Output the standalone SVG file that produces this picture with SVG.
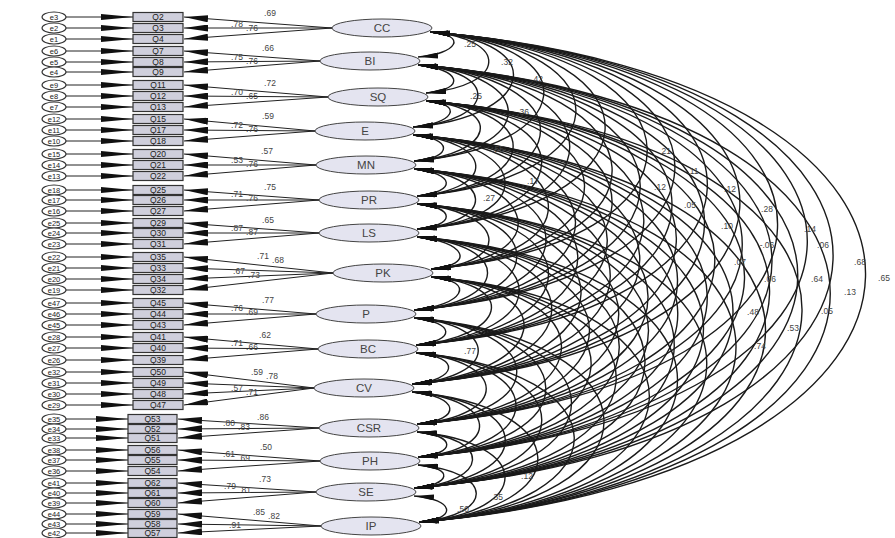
<svg xmlns="http://www.w3.org/2000/svg" width="895" height="538" viewBox="0 0 895 538">
<style>
.fac{fill:#e4e4f0;stroke:#444;stroke-width:1}
.ft{font-family:"Liberation Sans",Arial,sans-serif;font-size:11.5px;fill:#444;text-anchor:middle}
.box{fill:#cfcfdc;stroke:#333;stroke-width:1.2}
.bt{font-family:"Liberation Sans",Arial,sans-serif;font-size:8.5px;fill:#222;text-anchor:middle}
.err{fill:#fff;stroke:#333;stroke-width:1.1}
.et{font-family:"Liberation Sans",Arial,sans-serif;font-size:7.5px;fill:#222;text-anchor:middle}
.cov{fill:none;stroke:#1a1a1a;stroke-width:1.4;marker-start:url(#ah);marker-end:url(#ah)}
.ld{fill:none;stroke:#222;stroke-width:1;marker-end:url(#al)}
.el{fill:none;stroke:#222;stroke-width:1;marker-end:url(#ae)}
.lb{font-family:"Liberation Sans",Arial,sans-serif;font-size:8.5px;fill:#444;text-anchor:middle}
</style>
<defs>
<marker id="ah" viewBox="0 0 20 6" refX="20" refY="3" markerWidth="20" markerHeight="6" markerUnits="userSpaceOnUse" orient="auto-start-reverse"><path d="M0,0L20,3L0,6z" fill="#111"/></marker>
<marker id="al" viewBox="0 0 24 7" refX="24" refY="3.5" markerWidth="24" markerHeight="7" markerUnits="userSpaceOnUse" orient="auto"><path d="M0,0L24,3.5L0,7z" fill="#111"/></marker>
<marker id="ae" viewBox="0 0 32 6" refX="32" refY="3" markerWidth="32" markerHeight="6" markerUnits="userSpaceOnUse" orient="auto"><path d="M0,0L32,3L0,6z" fill="#111"/></marker>
</defs>
<rect width="895" height="538" fill="#fff"/>
<g id="connectors">
<g id="covariances">
<path class="cov" d="M430,32 C469,35 457,54 418,57"/>
<path class="cov" d="M430,32 C511,39 507,86 426,93"/>
<path class="cov" d="M430,32 C552,42 535,117 413,127"/>
<path class="cov" d="M430,32 C592,46 576,147 414,161"/>
<path class="cov" d="M430,32 C633,49 620,179 417,196"/>
<path class="cov" d="M430,32 C672,53 659,208 417,229"/>
<path class="cov" d="M430,32 C719,57 720,244 431,269"/>
<path class="cov" d="M430,32 C767,61 751,281 414,310"/>
<path class="cov" d="M430,32 C809,64 795,313 416,345"/>
<path class="cov" d="M430,32 C855,68 837,348 412,384"/>
<path class="cov" d="M430,32 C902,72 889,384 417,424"/>
<path class="cov" d="M430,32 C941,75 929,414 418,457"/>
<path class="cov" d="M430,32 C978,78 962,442 414,488"/>
<path class="cov" d="M430,32 C1018,82 1007,472 419,522"/>
<path class="cov" d="M418,65 C460,69 468,89 426,93"/>
<path class="cov" d="M418,65 C501,72 496,120 413,127"/>
<path class="cov" d="M418,65 C541,75 537,151 414,161"/>
<path class="cov" d="M418,65 C582,79 581,182 417,196"/>
<path class="cov" d="M418,65 C621,82 620,212 417,229"/>
<path class="cov" d="M418,65 C668,86 681,248 431,269"/>
<path class="cov" d="M418,65 C717,90 713,285 414,310"/>
<path class="cov" d="M418,65 C758,94 756,316 416,345"/>
<path class="cov" d="M418,65 C804,98 798,351 412,384"/>
<path class="cov" d="M418,65 C851,102 850,387 417,424"/>
<path class="cov" d="M418,65 C890,105 890,417 418,457"/>
<path class="cov" d="M418,65 C927,108 923,445 414,488"/>
<path class="cov" d="M418,65 C967,112 968,475 419,522"/>
<path class="cov" d="M426,101 C466,104 453,124 413,127"/>
<path class="cov" d="M426,101 C506,108 494,154 414,161"/>
<path class="cov" d="M426,101 C548,111 539,186 417,196"/>
<path class="cov" d="M426,101 C586,115 577,215 417,229"/>
<path class="cov" d="M426,101 C634,119 639,251 431,269"/>
<path class="cov" d="M426,101 C682,123 670,288 414,310"/>
<path class="cov" d="M426,101 C723,126 713,320 416,345"/>
<path class="cov" d="M426,101 C769,130 755,355 412,384"/>
<path class="cov" d="M426,101 C817,134 808,391 417,424"/>
<path class="cov" d="M426,101 C856,137 848,421 418,457"/>
<path class="cov" d="M426,101 C892,141 880,448 414,488"/>
<path class="cov" d="M426,101 C932,144 925,479 419,522"/>
<path class="cov" d="M413,135 C453,138 454,158 414,161"/>
<path class="cov" d="M413,135 C494,142 498,189 417,196"/>
<path class="cov" d="M413,135 C533,145 537,219 417,229"/>
<path class="cov" d="M413,135 C581,149 599,255 431,269"/>
<path class="cov" d="M413,135 C629,153 630,292 414,310"/>
<path class="cov" d="M413,135 C670,157 673,323 416,345"/>
<path class="cov" d="M413,135 C716,161 715,358 412,384"/>
<path class="cov" d="M413,135 C763,165 767,394 417,424"/>
<path class="cov" d="M413,135 C802,168 807,424 418,457"/>
<path class="cov" d="M413,135 C839,171 840,452 414,488"/>
<path class="cov" d="M413,135 C879,175 885,482 419,522"/>
<path class="cov" d="M414,169 C455,173 458,192 417,196"/>
<path class="cov" d="M414,169 C494,176 497,222 417,229"/>
<path class="cov" d="M414,169 C541,180 558,258 431,269"/>
<path class="cov" d="M414,169 C590,184 590,295 414,310"/>
<path class="cov" d="M414,169 C631,187 633,327 416,345"/>
<path class="cov" d="M414,169 C677,191 675,362 412,384"/>
<path class="cov" d="M414,169 C724,195 727,398 417,424"/>
<path class="cov" d="M414,169 C763,199 767,427 418,457"/>
<path class="cov" d="M414,169 C800,202 800,455 414,488"/>
<path class="cov" d="M414,169 C840,205 845,486 419,522"/>
<path class="cov" d="M417,204 C456,207 456,226 417,229"/>
<path class="cov" d="M417,204 C503,211 517,262 431,269"/>
<path class="cov" d="M417,204 C552,215 549,299 414,310"/>
<path class="cov" d="M417,204 C593,219 592,330 416,345"/>
<path class="cov" d="M417,204 C639,223 634,365 412,384"/>
<path class="cov" d="M417,204 C686,227 686,401 417,424"/>
<path class="cov" d="M417,204 C725,230 726,431 418,457"/>
<path class="cov" d="M417,204 C762,233 759,459 414,488"/>
<path class="cov" d="M417,204 C802,237 804,489 419,522"/>
<path class="cov" d="M417,237 C464,241 478,265 431,269"/>
<path class="cov" d="M417,237 C513,245 510,302 414,310"/>
<path class="cov" d="M417,237 C554,249 553,333 416,345"/>
<path class="cov" d="M417,237 C600,253 595,368 412,384"/>
<path class="cov" d="M417,237 C647,257 647,404 417,424"/>
<path class="cov" d="M417,237 C686,260 687,434 418,457"/>
<path class="cov" d="M417,237 C723,263 720,462 414,488"/>
<path class="cov" d="M417,237 C763,266 765,493 419,522"/>
<path class="cov" d="M431,277 C479,281 462,306 414,310"/>
<path class="cov" d="M431,277 C521,285 506,337 416,345"/>
<path class="cov" d="M431,277 C567,289 548,372 412,384"/>
<path class="cov" d="M431,277 C614,293 600,408 417,424"/>
<path class="cov" d="M431,277 C653,296 640,438 418,457"/>
<path class="cov" d="M431,277 C689,299 672,466 414,488"/>
<path class="cov" d="M431,277 C730,302 718,497 419,522"/>
<path class="cov" d="M414,318 C455,322 457,341 416,345"/>
<path class="cov" d="M414,318 C501,325 499,377 412,384"/>
<path class="cov" d="M414,318 C549,329 552,413 417,424"/>
<path class="cov" d="M414,318 C587,333 591,442 418,457"/>
<path class="cov" d="M414,318 C624,336 624,470 414,488"/>
<path class="cov" d="M414,318 C664,339 669,501 419,522"/>
<path class="cov" d="M416,353 C462,357 458,380 412,384"/>
<path class="cov" d="M416,353 C509,361 510,416 417,424"/>
<path class="cov" d="M416,353 C548,364 550,446 418,457"/>
<path class="cov" d="M416,353 C585,367 583,474 414,488"/>
<path class="cov" d="M416,353 C625,371 628,504 419,522"/>
<path class="cov" d="M412,392 C459,396 464,420 417,424"/>
<path class="cov" d="M412,392 C498,399 504,450 418,457"/>
<path class="cov" d="M412,392 C535,402 537,478 414,488"/>
<path class="cov" d="M412,392 C575,406 582,508 419,522"/>
<path class="cov" d="M417,432 C456,435 457,454 418,457"/>
<path class="cov" d="M417,432 C493,438 490,482 414,488"/>
<path class="cov" d="M417,432 C533,442 535,512 419,522"/>
<path class="cov" d="M418,465 C455,468 451,485 414,488"/>
<path class="cov" d="M418,465 C495,472 496,515 419,522"/>
<path class="cov" d="M414,496 C454,499 459,519 419,522"/>
</g>
<g id="loadings">
<line class="ld" x1="332" y1="28" x2="184" y2="17"/><line class="ld" x1="332" y1="28" x2="184" y2="28"/><line class="ld" x1="332" y1="28" x2="184" y2="39"/>
<line class="ld" x1="320" y1="61" x2="184" y2="51"/><line class="ld" x1="320" y1="61" x2="184" y2="62"/><line class="ld" x1="320" y1="61" x2="184" y2="72"/>
<line class="ld" x1="328" y1="97" x2="184" y2="85"/><line class="ld" x1="328" y1="97" x2="184" y2="96"/><line class="ld" x1="328" y1="97" x2="184" y2="107"/>
<line class="ld" x1="315" y1="131" x2="184" y2="119"/><line class="ld" x1="315" y1="131" x2="184" y2="130"/><line class="ld" x1="315" y1="131" x2="184" y2="141"/>
<line class="ld" x1="316" y1="165" x2="184" y2="154"/><line class="ld" x1="316" y1="165" x2="184" y2="165"/><line class="ld" x1="316" y1="165" x2="184" y2="176"/>
<line class="ld" x1="319" y1="200" x2="184" y2="190"/><line class="ld" x1="319" y1="200" x2="184" y2="200"/><line class="ld" x1="319" y1="200" x2="184" y2="211"/>
<line class="ld" x1="319" y1="233" x2="184" y2="223"/><line class="ld" x1="319" y1="233" x2="184" y2="233"/><line class="ld" x1="319" y1="233" x2="184" y2="244"/>
<line class="ld" x1="333" y1="273" x2="184" y2="257"/><line class="ld" x1="333" y1="273" x2="184" y2="268"/><line class="ld" x1="333" y1="273" x2="184" y2="279"/><line class="ld" x1="333" y1="273" x2="184" y2="290"/>
<line class="ld" x1="316" y1="314" x2="184" y2="303"/><line class="ld" x1="316" y1="314" x2="184" y2="314"/><line class="ld" x1="316" y1="314" x2="184" y2="325"/>
<line class="ld" x1="318" y1="349" x2="184" y2="337"/><line class="ld" x1="318" y1="349" x2="184" y2="348"/><line class="ld" x1="318" y1="349" x2="184" y2="360"/>
<line class="ld" x1="314" y1="388" x2="184" y2="372"/><line class="ld" x1="314" y1="388" x2="184" y2="383"/><line class="ld" x1="314" y1="388" x2="184" y2="394"/><line class="ld" x1="314" y1="388" x2="184" y2="405"/>
<line class="ld" x1="319" y1="428" x2="178" y2="419"/><line class="ld" x1="319" y1="428" x2="178" y2="429"/><line class="ld" x1="319" y1="428" x2="178" y2="438"/>
<line class="ld" x1="320" y1="461" x2="178" y2="450"/><line class="ld" x1="320" y1="461" x2="178" y2="460"/><line class="ld" x1="320" y1="461" x2="178" y2="471"/>
<line class="ld" x1="316" y1="492" x2="178" y2="483"/><line class="ld" x1="316" y1="492" x2="178" y2="493"/><line class="ld" x1="316" y1="492" x2="178" y2="503"/>
<line class="ld" x1="321" y1="526" x2="178" y2="514"/><line class="ld" x1="321" y1="526" x2="178" y2="524"/><line class="ld" x1="321" y1="526" x2="178" y2="533"/>
</g>
<g id="error-paths">
<line class="el" x1="66" y1="17" x2="133" y2="17"/><line class="el" x1="66" y1="28" x2="133" y2="28"/><line class="el" x1="66" y1="39" x2="133" y2="39"/>
<line class="el" x1="66" y1="51" x2="133" y2="51"/><line class="el" x1="66" y1="62" x2="133" y2="62"/><line class="el" x1="66" y1="72" x2="133" y2="72"/>
<line class="el" x1="66" y1="85" x2="133" y2="85"/><line class="el" x1="66" y1="96" x2="133" y2="96"/><line class="el" x1="66" y1="107" x2="133" y2="107"/>
<line class="el" x1="66" y1="119" x2="133" y2="119"/><line class="el" x1="66" y1="130" x2="133" y2="130"/><line class="el" x1="66" y1="141" x2="133" y2="141"/>
<line class="el" x1="66" y1="154" x2="133" y2="154"/><line class="el" x1="66" y1="165" x2="133" y2="165"/><line class="el" x1="66" y1="176" x2="133" y2="176"/>
<line class="el" x1="66" y1="190" x2="133" y2="190"/><line class="el" x1="66" y1="200" x2="133" y2="200"/><line class="el" x1="66" y1="211" x2="133" y2="211"/>
<line class="el" x1="66" y1="223" x2="133" y2="223"/><line class="el" x1="66" y1="233" x2="133" y2="233"/><line class="el" x1="66" y1="244" x2="133" y2="244"/>
<line class="el" x1="66" y1="257" x2="133" y2="257"/><line class="el" x1="66" y1="268" x2="133" y2="268"/><line class="el" x1="66" y1="279" x2="133" y2="279"/><line class="el" x1="66" y1="290" x2="133" y2="290"/>
<line class="el" x1="66" y1="303" x2="133" y2="303"/><line class="el" x1="66" y1="314" x2="133" y2="314"/><line class="el" x1="66" y1="325" x2="133" y2="325"/>
<line class="el" x1="66" y1="337" x2="133" y2="337"/><line class="el" x1="66" y1="348" x2="133" y2="348"/><line class="el" x1="66" y1="360" x2="133" y2="360"/>
<line class="el" x1="66" y1="372" x2="133" y2="372"/><line class="el" x1="66" y1="383" x2="133" y2="383"/><line class="el" x1="66" y1="394" x2="133" y2="394"/><line class="el" x1="66" y1="405" x2="133" y2="405"/>
<line class="el" x1="66" y1="419" x2="128" y2="419"/><line class="el" x1="66" y1="429" x2="128" y2="429"/><line class="el" x1="66" y1="438" x2="128" y2="438"/>
<line class="el" x1="66" y1="450" x2="128" y2="450"/><line class="el" x1="66" y1="460" x2="128" y2="460"/><line class="el" x1="66" y1="471" x2="128" y2="471"/>
<line class="el" x1="66" y1="483" x2="128" y2="483"/><line class="el" x1="66" y1="493" x2="128" y2="493"/><line class="el" x1="66" y1="503" x2="128" y2="503"/>
<line class="el" x1="66" y1="514" x2="128" y2="514"/><line class="el" x1="66" y1="524" x2="128" y2="524"/><line class="el" x1="66" y1="533" x2="128" y2="533"/>
</g>
<g id="loading-labels">
<text class="lb" x="270" y="16">.69</text><text class="lb" x="237" y="27">.78</text><text class="lb" x="252" y="31">.76</text>
<text class="lb" x="268" y="51">.66</text><text class="lb" x="237" y="60">.75</text><text class="lb" x="252" y="64">.76</text>
<text class="lb" x="270" y="86">.72</text><text class="lb" x="237" y="95">.70</text><text class="lb" x="252" y="99">.65</text>
<text class="lb" x="268" y="119">.59</text><text class="lb" x="237" y="128">.72</text><text class="lb" x="252" y="132">.76</text>
<text class="lb" x="267" y="154">.57</text><text class="lb" x="237" y="163">.53</text><text class="lb" x="252" y="167">.76</text>
<text class="lb" x="270" y="190">.75</text><text class="lb" x="237" y="197">.71</text><text class="lb" x="252" y="201">.76</text>
<text class="lb" x="268" y="223">.65</text><text class="lb" x="237" y="231">.87</text><text class="lb" x="252" y="235">.87</text>
<text class="lb" x="263" y="259">.71</text><text class="lb" x="278" y="263">.68</text><text class="lb" x="239" y="274">.67</text><text class="lb" x="254" y="278">.73</text>
<text class="lb" x="268" y="303">.77</text><text class="lb" x="237" y="311">.76</text><text class="lb" x="252" y="315">.69</text>
<text class="lb" x="265" y="338">.62</text><text class="lb" x="237" y="346">.71</text><text class="lb" x="252" y="350">.66</text>
<text class="lb" x="257" y="375">.59</text><text class="lb" x="272" y="379">.78</text><text class="lb" x="237" y="391">.57</text><text class="lb" x="252" y="395">.71</text>
<text class="lb" x="263" y="420">.86</text><text class="lb" x="229" y="426">.80</text><text class="lb" x="244" y="430">.83</text>
<text class="lb" x="266" y="450">.50</text><text class="lb" x="229" y="457">.61</text><text class="lb" x="244" y="461">.69</text>
<text class="lb" x="265" y="482">.73</text><text class="lb" x="230" y="489">.79</text><text class="lb" x="245" y="493">.81</text>
<text class="lb" x="259" y="515">.85</text><text class="lb" x="274" y="519">.82</text><text class="lb" x="235" y="528">.91</text>
</g>
<g id="covariance-labels">
<text class="lb" x="470" y="47">.25</text>
<text class="lb" x="507" y="65">.32</text>
<text class="lb" x="537" y="82">.42</text>
<text class="lb" x="476" y="99">.25</text>
<text class="lb" x="523" y="115">.36</text>
<text class="lb" x="498" y="152">.55</text>
<text class="lb" x="533" y="184">.17</text>
<text class="lb" x="489" y="201">.27</text>
<text class="lb" x="665" y="154">.21</text>
<text class="lb" x="693" y="174">.11</text>
<text class="lb" x="660" y="190">.12</text>
<text class="lb" x="730" y="192">.12</text>
<text class="lb" x="690" y="208">.05</text>
<text class="lb" x="767" y="212">.28</text>
<text class="lb" x="727" y="229">.10</text>
<text class="lb" x="810" y="232">.14</text>
<text class="lb" x="767" y="248">-.06</text>
<text class="lb" x="823" y="248">.06</text>
<text class="lb" x="740" y="265">.07</text>
<text class="lb" x="860" y="265">.68</text>
<text class="lb" x="770" y="282">.06</text>
<text class="lb" x="817" y="282">.64</text>
<text class="lb" x="884" y="281">.65</text>
<text class="lb" x="850" y="295">.13</text>
<text class="lb" x="753" y="315">.48</text>
<text class="lb" x="827" y="314">.05</text>
<text class="lb" x="793" y="331">.53</text>
<text class="lb" x="760" y="349">.74</text>
<text class="lb" x="470" y="354">.77</text>
<text class="lb" x="527" y="479">.12</text>
<text class="lb" x="497" y="500">.35</text>
<text class="lb" x="463" y="512">.50</text>
</g>
</g>
<g id="CC"><ellipse class="fac" cx="382" cy="28" rx="50" ry="9"/><text class="ft" x="382" y="32">CC</text></g>
<g id="BI"><ellipse class="fac" cx="370" cy="61" rx="50" ry="9"/><text class="ft" x="370" y="65">BI</text></g>
<g id="SQ"><ellipse class="fac" cx="378" cy="97" rx="50" ry="9"/><text class="ft" x="378" y="101">SQ</text></g>
<g id="E"><ellipse class="fac" cx="365" cy="131" rx="50" ry="9"/><text class="ft" x="365" y="135">E</text></g>
<g id="MN"><ellipse class="fac" cx="366" cy="165" rx="50" ry="9"/><text class="ft" x="366" y="169">MN</text></g>
<g id="PR"><ellipse class="fac" cx="369" cy="200" rx="50" ry="9"/><text class="ft" x="369" y="204">PR</text></g>
<g id="LS"><ellipse class="fac" cx="369" cy="233" rx="50" ry="9"/><text class="ft" x="369" y="237">LS</text></g>
<g id="PK"><ellipse class="fac" cx="383" cy="273" rx="50" ry="9"/><text class="ft" x="383" y="277">PK</text></g>
<g id="P"><ellipse class="fac" cx="366" cy="314" rx="50" ry="9"/><text class="ft" x="366" y="318">P</text></g>
<g id="BC"><ellipse class="fac" cx="368" cy="349" rx="50" ry="9"/><text class="ft" x="368" y="353">BC</text></g>
<g id="CV"><ellipse class="fac" cx="364" cy="388" rx="50" ry="9"/><text class="ft" x="364" y="392">CV</text></g>
<g id="CSR"><ellipse class="fac" cx="369" cy="428" rx="50" ry="9"/><text class="ft" x="369" y="432">CSR</text></g>
<g id="PH"><ellipse class="fac" cx="370" cy="461" rx="50" ry="9"/><text class="ft" x="370" y="465">PH</text></g>
<g id="SE"><ellipse class="fac" cx="366" cy="492" rx="50" ry="9"/><text class="ft" x="366" y="496">SE</text></g>
<g id="IP"><ellipse class="fac" cx="371" cy="526" rx="50" ry="9"/><text class="ft" x="371" y="530">IP</text></g>
<g id="indicators">
<g id="Q2"><rect class="box" x="133" y="12.5" width="50" height="9"/><text class="bt" x="158" y="20">Q2</text></g>
<g id="Q3"><rect class="box" x="133" y="23.5" width="50" height="9"/><text class="bt" x="158" y="31">Q3</text></g>
<g id="Q4"><rect class="box" x="133" y="34.5" width="50" height="9"/><text class="bt" x="158" y="42">Q4</text></g>
<g id="Q7"><rect class="box" x="133" y="46.5" width="50" height="9"/><text class="bt" x="158" y="54">Q7</text></g>
<g id="Q8"><rect class="box" x="133" y="57.5" width="50" height="9"/><text class="bt" x="158" y="65">Q8</text></g>
<g id="Q9"><rect class="box" x="133" y="67.5" width="50" height="9"/><text class="bt" x="158" y="75">Q9</text></g>
<g id="Q11"><rect class="box" x="133" y="80.5" width="50" height="9"/><text class="bt" x="158" y="88">Q11</text></g>
<g id="Q12"><rect class="box" x="133" y="91.5" width="50" height="9"/><text class="bt" x="158" y="99">Q12</text></g>
<g id="Q13"><rect class="box" x="133" y="102.5" width="50" height="9"/><text class="bt" x="158" y="110">Q13</text></g>
<g id="Q15"><rect class="box" x="133" y="114.5" width="50" height="9"/><text class="bt" x="158" y="122">Q15</text></g>
<g id="Q17"><rect class="box" x="133" y="125.5" width="50" height="9"/><text class="bt" x="158" y="133">Q17</text></g>
<g id="Q18"><rect class="box" x="133" y="136.5" width="50" height="9"/><text class="bt" x="158" y="144">Q18</text></g>
<g id="Q20"><rect class="box" x="133" y="149.5" width="50" height="9"/><text class="bt" x="158" y="157">Q20</text></g>
<g id="Q21"><rect class="box" x="133" y="160.5" width="50" height="9"/><text class="bt" x="158" y="168">Q21</text></g>
<g id="Q22"><rect class="box" x="133" y="171.5" width="50" height="9"/><text class="bt" x="158" y="179">Q22</text></g>
<g id="Q25"><rect class="box" x="133" y="185.5" width="50" height="9"/><text class="bt" x="158" y="193">Q25</text></g>
<g id="Q26"><rect class="box" x="133" y="195.5" width="50" height="9"/><text class="bt" x="158" y="203">Q26</text></g>
<g id="Q27"><rect class="box" x="133" y="206.5" width="50" height="9"/><text class="bt" x="158" y="214">Q27</text></g>
<g id="Q29"><rect class="box" x="133" y="218.5" width="50" height="9"/><text class="bt" x="158" y="226">Q29</text></g>
<g id="Q30"><rect class="box" x="133" y="228.5" width="50" height="9"/><text class="bt" x="158" y="236">Q30</text></g>
<g id="Q31"><rect class="box" x="133" y="239.5" width="50" height="9"/><text class="bt" x="158" y="247">Q31</text></g>
<g id="Q35"><rect class="box" x="133" y="252.5" width="50" height="9"/><text class="bt" x="158" y="260">Q35</text></g>
<g id="Q33"><rect class="box" x="133" y="263.5" width="50" height="9"/><text class="bt" x="158" y="271">Q33</text></g>
<g id="Q34"><rect class="box" x="133" y="274.5" width="50" height="9"/><text class="bt" x="158" y="282">Q34</text></g>
<g id="Q32"><rect class="box" x="133" y="285.5" width="50" height="9"/><text class="bt" x="158" y="293">Q32</text></g>
<g id="Q45"><rect class="box" x="133" y="298.5" width="50" height="9"/><text class="bt" x="158" y="306">Q45</text></g>
<g id="Q44"><rect class="box" x="133" y="309.5" width="50" height="9"/><text class="bt" x="158" y="317">Q44</text></g>
<g id="Q43"><rect class="box" x="133" y="320.5" width="50" height="9"/><text class="bt" x="158" y="328">Q43</text></g>
<g id="Q41"><rect class="box" x="133" y="332.5" width="50" height="9"/><text class="bt" x="158" y="340">Q41</text></g>
<g id="Q40"><rect class="box" x="133" y="343.5" width="50" height="9"/><text class="bt" x="158" y="351">Q40</text></g>
<g id="Q39"><rect class="box" x="133" y="355.5" width="50" height="9"/><text class="bt" x="158" y="363">Q39</text></g>
<g id="Q50"><rect class="box" x="133" y="367.5" width="50" height="9"/><text class="bt" x="158" y="375">Q50</text></g>
<g id="Q49"><rect class="box" x="133" y="378.5" width="50" height="9"/><text class="bt" x="158" y="386">Q49</text></g>
<g id="Q48"><rect class="box" x="133" y="389.5" width="50" height="9"/><text class="bt" x="158" y="397">Q48</text></g>
<g id="Q47"><rect class="box" x="133" y="400.5" width="50" height="9"/><text class="bt" x="158" y="408">Q47</text></g>
<g id="Q53"><rect class="box" x="128" y="414.5" width="49" height="9"/><text class="bt" x="152.5" y="422">Q53</text></g>
<g id="Q52"><rect class="box" x="128" y="424.5" width="49" height="9"/><text class="bt" x="152.5" y="432">Q52</text></g>
<g id="Q51"><rect class="box" x="128" y="433.5" width="49" height="9"/><text class="bt" x="152.5" y="441">Q51</text></g>
<g id="Q56"><rect class="box" x="128" y="445.5" width="49" height="9"/><text class="bt" x="152.5" y="453">Q56</text></g>
<g id="Q55"><rect class="box" x="128" y="455.5" width="49" height="9"/><text class="bt" x="152.5" y="463">Q55</text></g>
<g id="Q54"><rect class="box" x="128" y="466.5" width="49" height="9"/><text class="bt" x="152.5" y="474">Q54</text></g>
<g id="Q62"><rect class="box" x="128" y="478.5" width="49" height="9"/><text class="bt" x="152.5" y="486">Q62</text></g>
<g id="Q61"><rect class="box" x="128" y="488.5" width="49" height="9"/><text class="bt" x="152.5" y="496">Q61</text></g>
<g id="Q60"><rect class="box" x="128" y="498.5" width="49" height="9"/><text class="bt" x="152.5" y="506">Q60</text></g>
<g id="Q59"><rect class="box" x="128" y="509.5" width="49" height="9"/><text class="bt" x="152.5" y="517">Q59</text></g>
<g id="Q58"><rect class="box" x="128" y="519.5" width="49" height="9"/><text class="bt" x="152.5" y="527">Q58</text></g>
<g id="Q57"><rect class="box" x="128" y="528.5" width="49" height="9"/><text class="bt" x="152.5" y="536">Q57</text></g>
</g>
<g id="errors">
<g id="e3"><ellipse class="err" cx="54" cy="17" rx="12" ry="5"/><text class="et" x="54" y="19.7">e3</text></g>
<g id="e2"><ellipse class="err" cx="54" cy="28" rx="12" ry="5"/><text class="et" x="54" y="30.7">e2</text></g>
<g id="e1"><ellipse class="err" cx="54" cy="39" rx="12" ry="5"/><text class="et" x="54" y="41.7">e1</text></g>
<g id="e6"><ellipse class="err" cx="54" cy="51" rx="12" ry="5"/><text class="et" x="54" y="53.7">e6</text></g>
<g id="e5"><ellipse class="err" cx="54" cy="62" rx="12" ry="5"/><text class="et" x="54" y="64.7">e5</text></g>
<g id="e4"><ellipse class="err" cx="54" cy="72" rx="12" ry="5"/><text class="et" x="54" y="74.7">e4</text></g>
<g id="e9"><ellipse class="err" cx="54" cy="85" rx="12" ry="5"/><text class="et" x="54" y="87.7">e9</text></g>
<g id="e8"><ellipse class="err" cx="54" cy="96" rx="12" ry="5"/><text class="et" x="54" y="98.7">e8</text></g>
<g id="e7"><ellipse class="err" cx="54" cy="107" rx="12" ry="5"/><text class="et" x="54" y="109.7">e7</text></g>
<g id="e12"><ellipse class="err" cx="54" cy="119" rx="12" ry="5"/><text class="et" x="54" y="121.7">e12</text></g>
<g id="e11"><ellipse class="err" cx="54" cy="130" rx="12" ry="5"/><text class="et" x="54" y="132.7">e11</text></g>
<g id="e10"><ellipse class="err" cx="54" cy="141" rx="12" ry="5"/><text class="et" x="54" y="143.7">e10</text></g>
<g id="e15"><ellipse class="err" cx="54" cy="154" rx="12" ry="5"/><text class="et" x="54" y="156.7">e15</text></g>
<g id="e14"><ellipse class="err" cx="54" cy="165" rx="12" ry="5"/><text class="et" x="54" y="167.7">e14</text></g>
<g id="e13"><ellipse class="err" cx="54" cy="176" rx="12" ry="5"/><text class="et" x="54" y="178.7">e13</text></g>
<g id="e18"><ellipse class="err" cx="54" cy="190" rx="12" ry="5"/><text class="et" x="54" y="192.7">e18</text></g>
<g id="e17"><ellipse class="err" cx="54" cy="200" rx="12" ry="5"/><text class="et" x="54" y="202.7">e17</text></g>
<g id="e16"><ellipse class="err" cx="54" cy="211" rx="12" ry="5"/><text class="et" x="54" y="213.7">e16</text></g>
<g id="e25"><ellipse class="err" cx="54" cy="223" rx="12" ry="5"/><text class="et" x="54" y="225.7">e25</text></g>
<g id="e24"><ellipse class="err" cx="54" cy="233" rx="12" ry="5"/><text class="et" x="54" y="235.7">e24</text></g>
<g id="e23"><ellipse class="err" cx="54" cy="244" rx="12" ry="5"/><text class="et" x="54" y="246.7">e23</text></g>
<g id="e22"><ellipse class="err" cx="54" cy="257" rx="12" ry="5"/><text class="et" x="54" y="259.7">e22</text></g>
<g id="e21"><ellipse class="err" cx="54" cy="268" rx="12" ry="5"/><text class="et" x="54" y="270.7">e21</text></g>
<g id="e20"><ellipse class="err" cx="54" cy="279" rx="12" ry="5"/><text class="et" x="54" y="281.7">e20</text></g>
<g id="e19"><ellipse class="err" cx="54" cy="290" rx="12" ry="5"/><text class="et" x="54" y="292.7">e19</text></g>
<g id="e47"><ellipse class="err" cx="54" cy="303" rx="12" ry="5"/><text class="et" x="54" y="305.7">e47</text></g>
<g id="e46"><ellipse class="err" cx="54" cy="314" rx="12" ry="5"/><text class="et" x="54" y="316.7">e46</text></g>
<g id="e45"><ellipse class="err" cx="54" cy="325" rx="12" ry="5"/><text class="et" x="54" y="327.7">e45</text></g>
<g id="e28"><ellipse class="err" cx="54" cy="337" rx="12" ry="5"/><text class="et" x="54" y="339.7">e28</text></g>
<g id="e27"><ellipse class="err" cx="54" cy="348" rx="12" ry="5"/><text class="et" x="54" y="350.7">e27</text></g>
<g id="e26"><ellipse class="err" cx="54" cy="360" rx="12" ry="5"/><text class="et" x="54" y="362.7">e26</text></g>
<g id="e32"><ellipse class="err" cx="54" cy="372" rx="12" ry="5"/><text class="et" x="54" y="374.7">e32</text></g>
<g id="e31"><ellipse class="err" cx="54" cy="383" rx="12" ry="5"/><text class="et" x="54" y="385.7">e31</text></g>
<g id="e30"><ellipse class="err" cx="54" cy="394" rx="12" ry="5"/><text class="et" x="54" y="396.7">e30</text></g>
<g id="e29"><ellipse class="err" cx="54" cy="405" rx="12" ry="5"/><text class="et" x="54" y="407.7">e29</text></g>
<g id="e35"><ellipse class="err" cx="54" cy="419" rx="12" ry="5"/><text class="et" x="54" y="421.7">e35</text></g>
<g id="e34"><ellipse class="err" cx="54" cy="429" rx="12" ry="5"/><text class="et" x="54" y="431.7">e34</text></g>
<g id="e33"><ellipse class="err" cx="54" cy="438" rx="12" ry="5"/><text class="et" x="54" y="440.7">e33</text></g>
<g id="e38"><ellipse class="err" cx="54" cy="450" rx="12" ry="5"/><text class="et" x="54" y="452.7">e38</text></g>
<g id="e37"><ellipse class="err" cx="54" cy="460" rx="12" ry="5"/><text class="et" x="54" y="462.7">e37</text></g>
<g id="e36"><ellipse class="err" cx="54" cy="471" rx="12" ry="5"/><text class="et" x="54" y="473.7">e36</text></g>
<g id="e41"><ellipse class="err" cx="54" cy="483" rx="12" ry="5"/><text class="et" x="54" y="485.7">e41</text></g>
<g id="e40"><ellipse class="err" cx="54" cy="493" rx="12" ry="5"/><text class="et" x="54" y="495.7">e40</text></g>
<g id="e39"><ellipse class="err" cx="54" cy="503" rx="12" ry="5"/><text class="et" x="54" y="505.7">e39</text></g>
<g id="e44"><ellipse class="err" cx="54" cy="514" rx="12" ry="5"/><text class="et" x="54" y="516.7">e44</text></g>
<g id="e43"><ellipse class="err" cx="54" cy="524" rx="12" ry="5"/><text class="et" x="54" y="526.7">e43</text></g>
<g id="e42"><ellipse class="err" cx="54" cy="533" rx="12" ry="5"/><text class="et" x="54" y="535.7">e42</text></g>
</g>
</svg>
